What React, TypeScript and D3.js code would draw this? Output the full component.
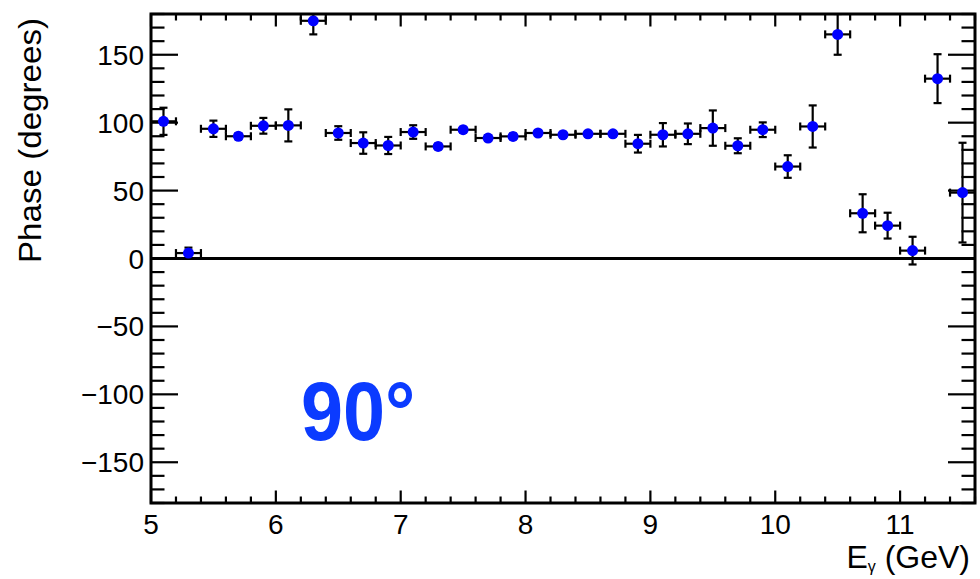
import React from "react";
import * as d3 from "d3";

const energies = [5.1, 5.3, 5.5, 5.7, 5.9, 6.1, 6.3, 6.5, 6.7, 6.9, 7.1, 7.3, 7.5, 7.7, 7.9, 8.1, 8.3, 8.5, 8.7, 8.9, 9.1, 9.3, 9.5, 9.7, 9.9, 10.1, 10.3, 10.5, 10.7, 10.9, 11.1, 11.3, 11.5];
const phases = [101, 4, 95.5, 90, 97.7, 98, 175, 92.4, 85, 83.2, 93.1, 82.5, 94.8, 88.7, 89.9, 92.4, 91.1, 91.8, 91.8, 84.5, 91.1, 91.8, 96, 83, 94.8, 67.7, 97.2, 165, 33.3, 24.2, 5.8, 132.4, 48.5];
const phaseErrors = [10, 4, 6, 2, 5.8, 11.8, 10, 5, 7.9, 6.3, 5, 2, 2, 2, 2, 2, 2, 2, 2, 6.5, 8.6, 7.6, 13, 5.5, 5.4, 8.3, 15.5, 15, 14, 9.5, 10.2, 18, 36.7];
const binHalfWidth = 0.1;

const xMajorTicks = [5, 6, 7, 8, 9, 10, 11];
const yMajorTicks = [-150, -100, -50, 0, 50, 100, 150];
const xDomain: [number, number] = [5, 11.6];
const yDomain: [number, number] = [-180, 180];

const yTitle = "Phase (degrees)";
const angleLabel = "90°";

const L = 151, R = 975, T = 14, B = 503;
const FONT = "'Liberation Sans', Arial, Helvetica, sans-serif";

export default function App() {
  const x = d3.scaleLinear().domain(xDomain).range([L, R]);
  const y = d3.scaleLinear().domain(yDomain).range([B, T]);

  const xMinor = d3.range(5, 11.6001, 0.2).filter((v) => Math.abs(v - Math.round(v)) > 1e-6);
  const yMinor = d3.range(-180, 180.001, 10).filter((v) => Math.abs(v % 50) > 1e-6);

  const lw = 2.2;
  const data = energies.map((e, i) => ({ e, p: phases[i], err: phaseErrors[i] }));

  return (
    <svg width={980} height={579} style={{ position: "absolute", left: 0, top: 0, background: "#fff" }} fontFamily={FONT}>
      <defs>
        <clipPath id="plotclip">
          <rect x={L} y={T} width={R - L} height={B - T} />
        </clipPath>
      </defs>
      {/* zero line */}
      <line x1={L} x2={R} y1={y(0)} y2={y(0)} stroke="#000" strokeWidth={3} />
      {/* ticks */}
      <g stroke="#000" strokeWidth={2.2}>
        {xMajorTicks.map((t) => (
          <g key={"xm" + t}>
            <line x1={x(t)} x2={x(t)} y1={B} y2={B - 12.5} />
            <line x1={x(t)} x2={x(t)} y1={T} y2={T + 12.5} />
          </g>
        ))}
        {xMinor.map((t, i) => (
          <g key={"xn" + i}>
            <line x1={x(t)} x2={x(t)} y1={B} y2={B - 6.5} />
            <line x1={x(t)} x2={x(t)} y1={T} y2={T + 6.5} />
          </g>
        ))}
        {yMajorTicks.map((t) => (
          <g key={"ym" + t}>
            <line x1={L} x2={L + 27} y1={y(t)} y2={y(t)} />
            <line x1={R} x2={R - 27} y1={y(t)} y2={y(t)} />
          </g>
        ))}
        {yMinor.map((t, i) => (
          <g key={"yn" + i}>
            <line x1={L} x2={L + 13.5} y1={y(t)} y2={y(t)} />
            <line x1={R} x2={R - 13.5} y1={y(t)} y2={y(t)} />
          </g>
        ))}
      </g>
      {/* data */}
      <g clipPath="url(#plotclip)">
        {data.map((d, i) => {
          const cx = x(d.e);
          const cy = y(d.p);
          const x0 = x(d.e - binHalfWidth);
          const x1 = x(d.e + binHalfWidth);
          const yTop = y(d.p + d.err);
          const yBot = y(d.p - d.err);
          return (
            <g key={i} stroke="#000" strokeWidth={lw}>
              <line x1={x0} x2={x1} y1={cy} y2={cy} />
              <line x1={x0} x2={x0} y1={cy - 4} y2={cy + 4} />
              <line x1={x1} x2={x1} y1={cy - 4} y2={cy + 4} />
              <line x1={cx} x2={cx} y1={yTop} y2={yBot} />
              <line x1={cx - 4} x2={cx + 4} y1={yTop} y2={yTop} />
              <line x1={cx - 4} x2={cx + 4} y1={yBot} y2={yBot} />
              <circle cx={cx} cy={cy} r={5.5} fill="#0000ff" stroke="none" />
            </g>
          );
        })}
      </g>
      {/* frame */}
      <rect x={L} y={T} width={R - L} height={B - T} fill="none" stroke="#000" strokeWidth={3} />
      {/* tick labels */}
      <g fontSize={28} fill="#000">
        {xMajorTicks.map((t) => (
          <text key={"xl" + t} x={x(t)} y={534} textAnchor="middle">
            {t}
          </text>
        ))}
        {yMajorTicks.map((t) => (
          <text key={"yl" + t} x={144} y={y(t) + 10} textAnchor="end">
            {t < 0 ? "\u2212" + Math.abs(t) : t}
          </text>
        ))}
      </g>
      {/* axis titles */}
      <text x={970} y={568} textAnchor="end" fontSize={32} fill="#000">
        E<tspan fontSize={16} dy={4}>γ</tspan>
        <tspan dy={-4}> (GeV)</tspan>
      </text>
      <text transform="translate(41,263) rotate(-90)" fontSize={32} fill="#000" textLength={245} lengthAdjust="spacingAndGlyphs">
        {yTitle}
      </text>
      {/* angle label */}
      <text transform="translate(301,440) scale(0.9,1)" fontSize={84} fontWeight="bold" fill="#0b3bff">
        {angleLabel}
      </text>
    </svg>
  );
}
